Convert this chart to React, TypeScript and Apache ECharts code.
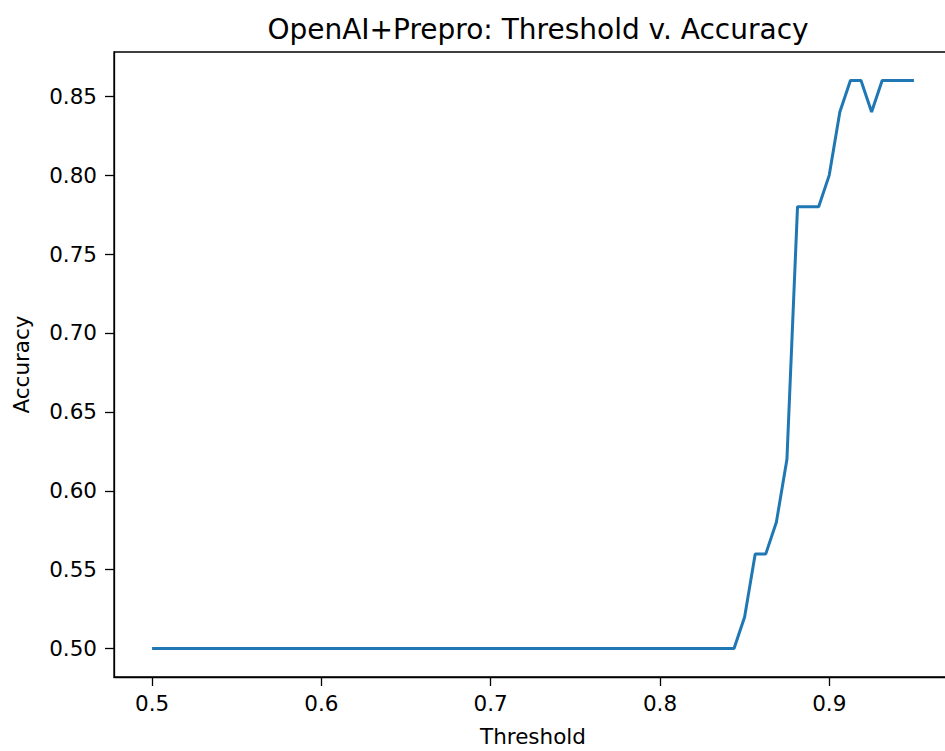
import React, { useEffect, useRef } from "react";
import * as echarts from "echarts";

const thresholds: number[] = [
  0.5, 0.50625, 0.5125, 0.51875, 0.525, 0.53125, 0.5375, 0.54375, 0.55, 0.55625,
  0.5625, 0.56875, 0.575, 0.58125, 0.5875, 0.59375, 0.6, 0.60625, 0.6125, 0.61875,
  0.625, 0.63125, 0.6375, 0.64375, 0.65, 0.65625, 0.6625, 0.66875, 0.675, 0.68125,
  0.6875, 0.69375, 0.7, 0.70625, 0.7125, 0.71875, 0.725, 0.73125, 0.7375, 0.74375,
  0.75, 0.75625, 0.7625, 0.76875, 0.775, 0.78125, 0.7875, 0.79375, 0.8, 0.80625,
  0.8125, 0.81875, 0.825, 0.83125, 0.8375, 0.84375, 0.85, 0.85625, 0.8625, 0.86875,
  0.875, 0.88125, 0.8875, 0.89375, 0.9, 0.90625, 0.9125, 0.91875, 0.925, 0.93125,
  0.9375, 0.94375, 0.95,
];

const accuracy: number[] = [
  0.5, 0.5, 0.5, 0.5, 0.5, 0.5, 0.5, 0.5, 0.5, 0.5,
  0.5, 0.5, 0.5, 0.5, 0.5, 0.5, 0.5, 0.5, 0.5, 0.5,
  0.5, 0.5, 0.5, 0.5, 0.5, 0.5, 0.5, 0.5, 0.5, 0.5,
  0.5, 0.5, 0.5, 0.5, 0.5, 0.5, 0.5, 0.5, 0.5, 0.5,
  0.5, 0.5, 0.5, 0.5, 0.5, 0.5, 0.5, 0.5, 0.5, 0.5,
  0.5, 0.5, 0.5, 0.5, 0.5, 0.5, 0.52, 0.56, 0.56, 0.58,
  0.62, 0.78, 0.78, 0.78, 0.8, 0.84, 0.86, 0.86, 0.84, 0.86,
  0.86, 0.86, 0.86,
];

const xTicks: number[] = [0.5, 0.6, 0.7, 0.8, 0.9];
const yTicks: number[] = [0.5, 0.55, 0.6, 0.65, 0.7, 0.75, 0.8, 0.85];

const FONT = "DejaVu Sans";

export default function App() {
  const ref = useRef<HTMLDivElement>(null);
  useEffect(() => {
    if (!ref.current) return;
    const chart = echarts.init(ref.current, null, { renderer: "svg" });
    chart.setOption({
      animation: false,
      backgroundColor: "#ffffff",
      title: {
        text: "OpenAI+Prepro: Threshold v. Accuracy",
        left: 533,
        top: 10,
        textAlign: "center",
        textStyle: { fontFamily: FONT, fontSize: 28, fontWeight: "normal", color: "#000" },
      },
      grid: {
        left: 114,
        top: 52,
        width: 838,
        height: 625,
        outerBoundsMode: "none",
        containLabel: false,
        show: true,
        borderColor: "#000",
        borderWidth: 1.3,
        backgroundColor: "transparent",
      },
      xAxis: {
        type: "value",
        min: 0.4775,
        max: 0.9725,
        name: "Threshold",
        nameLocation: "middle",
        nameGap: 48,
        nameTextStyle: { fontFamily: FONT, fontSize: 21.5, color: "#000" },
        axisLine: { show: true, onZero: false, lineStyle: { color: "#000", width: 1.3 } },
        axisTick: { show: true, length: 9, customValues: xTicks, lineStyle: { color: "#000", width: 1.3 } },
        axisLabel: { customValues: xTicks, margin: 15, fontFamily: FONT, fontSize: 21.5, color: "#000", formatter: (v: number) => v.toFixed(1) },
        splitLine: { show: false },
      },
      yAxis: {
        type: "value",
        min: 0.482,
        max: 0.878,
        name: "Accuracy",
        nameLocation: "middle",
        nameGap: 82,
        nameRotate: 90,
        nameTextStyle: { fontFamily: FONT, fontSize: 21.5, color: "#000" },
        axisLine: { show: true, onZero: false, lineStyle: { color: "#000", width: 1.3 } },
        axisTick: { show: true, length: 9, customValues: yTicks, lineStyle: { color: "#000", width: 1.3 } },
        axisLabel: { customValues: yTicks, margin: 17, fontFamily: FONT, fontSize: 21.5, color: "#000", formatter: (v: number) => v.toFixed(2) },
        splitLine: { show: false },
      },
      series: [
        {
          type: "line",
          data: thresholds.map((t, i) => [t, accuracy[i]]),
          showSymbol: false,
          symbol: "none",
          lineStyle: { color: "#1f77b4", width: 3 },
          clip: false,
        },
      ],
    });
    return () => chart.dispose();
  }, []);
  return <div ref={ref} style={{ position: "fixed", left: 0, top: 0, width: 945, height: 751 }} />;
}
